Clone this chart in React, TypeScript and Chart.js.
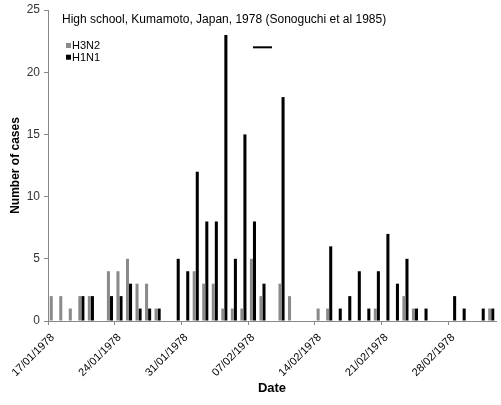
import React, { useEffect, useRef } from "react";
import { Chart, registerables } from "chart.js";

Chart.register(...registerables);

const startDate = new Date(1978, 0, 17);
const dayCount = 47;
const dates: string[] = [];
for (let i = 0; i < dayCount; i++) {
  const d = new Date(startDate.getFullYear(), startDate.getMonth(), startDate.getDate() + i);
  const dd = String(d.getDate()).padStart(2, "0");
  const mm = String(d.getMonth() + 1).padStart(2, "0");
  dates.push(`${dd}/${mm}/${d.getFullYear()}`);
}

const h3n2 = [2, 2, 1, 2, 2, 0, 4, 4, 5, 3, 3, 1, 0, 0, 0, 4, 3, 3, 1, 1, 1, 5, 2, 0, 3, 2, 0, 0, 1, 1, 0, 0, 0, 0, 1, 0, 0, 2, 1, 0, 0, 0, 0, 0, 0, 0, 1];
const h1n1 = [0, 0, 0, 2, 2, 0, 2, 2, 3, 1, 1, 1, 0, 5, 4, 12, 8, 8, 23, 5, 15, 8, 3, 0, 18, 0, 0, 0, 0, 6, 1, 2, 4, 1, 4, 7, 3, 5, 1, 1, 0, 0, 2, 1, 0, 1, 1];
// short annotation bar above the peak (07/02 to 09/02 at 22 cases)
const markerLine: (number | null)[] = dates.map((_, i) => (i >= 21 && i <= 23 ? 22 : null));

const titleText = "High school, Kumamoto, Japan, 1978 (Sonoguchi et al 1985)";
const seriesNames = ["H3N2", "H1N1"];
const seriesColors = ["#8a8a8a", "#000000"];
const yTicks = [0, 5, 10, 15, 20, 25];

const FONT = "'Liberation Sans', Arial, sans-serif";

const insidePlugin = {
  id: "insideText",
  afterDraw(chart: any) {
    const { ctx, chartArea } = chart;
    ctx.save();
    ctx.fillStyle = "#000";
    ctx.font = `12px ${FONT}`;
    ctx.textBaseline = "alphabetic";
    ctx.textAlign = "left";
    ctx.fillText(titleText, chartArea.left + 14, 23);
    ctx.font = `11px ${FONT}`;
    ctx.textBaseline = "middle";
    seriesNames.forEach((name, i) => {
      const y = 45.5 + i * 11.7;
      ctx.fillStyle = seriesColors[i];
      ctx.fillRect(chartArea.left + 18, y - 2.5, 5, 5);
      ctx.fillStyle = "#000";
      ctx.fillText(name, chartArea.left + 24, y + 0.5);
    });
    ctx.restore();
  },
};

export default function App() {
  const ref = useRef<HTMLCanvasElement | null>(null);
  useEffect(() => {
    if (!ref.current) return;
    const chart = new Chart(ref.current, {
      type: "bar",
      data: {
        labels: dates,
        datasets: [
          {
            type: "line",
            label: "marker",
            data: markerLine,
            borderColor: "#000",
            borderWidth: 2,
            pointRadius: 0,
            spanGaps: false,
          } as any,
          {
            label: seriesNames[0],
            data: h3n2,
            backgroundColor: seriesColors[0],
            categoryPercentage: 0.64,
            barPercentage: 1.0,
          },
          {
            label: seriesNames[1],
            data: h1n1,
            backgroundColor: seriesColors[1],
            categoryPercentage: 0.64,
            barPercentage: 1.0,
          },
        ],
      },
      options: {
        animation: false,
        responsive: true,
        maintainAspectRatio: false,
        layout: { padding: { top: 10, right: 5, left: 0, bottom: 0 } },
        plugins: {
          legend: { display: false },
          title: { display: false },
          tooltip: { enabled: false },
        },
        scales: {
          x: {
            offset: true,
            grid: {
              offset: true,
              drawOnChartArea: false,
              tickLength: 4,
              tickColor: (c: any) => (c.index % 7 === 0 ? "#888" : "rgba(0,0,0,0)"),
            },
            border: { color: "#888", width: 1 },
            ticks: {
              autoSkip: false,
              maxRotation: 45,
              minRotation: 45,
              padding: 6,
              color: "#000",
              font: { family: FONT, size: 11 },
              callback: (_v: any, i: number) => (i % 7 === 0 ? dates[i] : ""),
            },
            title: {
              display: true,
              text: "Date",
              color: "#000",
              font: { family: FONT, size: 13, weight: "bold" },
              padding: { top: 0, bottom: 9 },
            },
            afterFit: (s: any) => {
              s.height = 84;
              s.paddingLeft = 0;
              s.paddingRight = 0;
            },
          },
          y: {
            min: 0,
            max: 25,
            grid: { drawOnChartArea: false, tickLength: 4, color: "#888" },
            border: { color: "#888", width: 1 },
            afterBuildTicks: (s: any) => {
              s.ticks = yTicks.map((v) => ({ value: v }));
            },
            ticks: {
              color: "#333",
              padding: 4,
              font: { family: FONT, size: 12 },
            },
            title: {
              display: true,
              text: "Number of cases",
              color: "#000",
              font: { family: FONT, size: 12, weight: "bold" },
              padding: { top: 8, bottom: 0 },
            },
            afterFit: (s: any) => {
              s.width = 48;
              s.paddingTop = 0;
              s.paddingBottom = 0;
            },
          },
        },
      },
      plugins: [insidePlugin],
    });
    return () => chart.destroy();
  }, []);
  return (
    <div style={{ position: "fixed", left: 0, top: 0, width: 501, height: 405, background: "#fff" }}>
      <canvas ref={ref} />
    </div>
  );
}
